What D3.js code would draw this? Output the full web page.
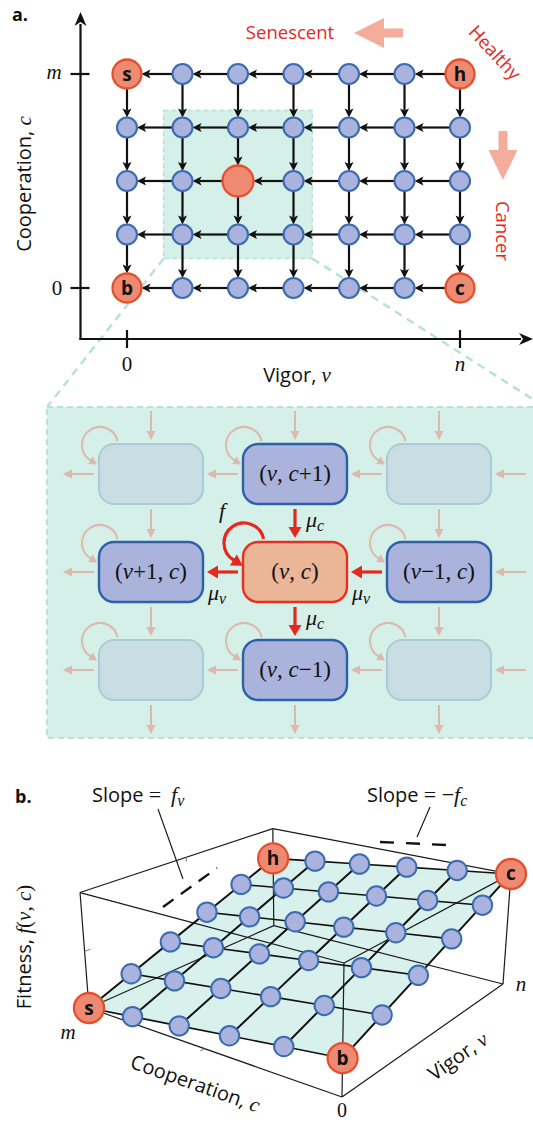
<!DOCTYPE html>
<html>
<head>
<script src="https://d3js.org/d3.v7.min.js" charset="utf-8"></script>
<style>
  body { margin: 0; background: #fff; }
  text { font-family: "Open Sans", "DejaVu Sans", sans-serif; fill: #111; }
  .math { font-family: "Liberation Serif", "DejaVu Serif", serif; }
  .it { font-style: italic; }
</style>
</head>
<body>
<script>
// ---- panel a : lattice of states ----
var vigor = [0, 1, 2, 3, 4, 5, 6];          // v = 0 ... n
var cooperation = [0, 1, 2, 3, 4];          // c = 0 ... m
var extremes = [
  {v: 0, c: 4, name: "s"}, {v: 6, c: 4, name: "h"},
  {v: 0, c: 0, name: "b"}, {v: 6, c: 0, name: "c"}
];
var focus = {v: 2, c: 2};

// ---- zoomed neighbourhood of the focus state ----
var cells = [
  {dv: 1, dc: 1}, {dv: 0, dc: 1, label: ["(", "v", ", ", "c", "+1)"]}, {dv: -1, dc: 1},
  {dv: 1, dc: 0, label: ["(", "v", "+1, ", "c", ")"]}, {dv: 0, dc: 0, label: ["(", "v", ", ", "c", ")"]},
  {dv: -1, dc: 0, label: ["(", "v", "\u22121, ", "c", ")"]},
  {dv: 1, dc: -1}, {dv: 0, dc: -1, label: ["(", "v", ", ", "c", "\u22121)"]}, {dv: -1, dc: -1}
];
var rates = [
  {from: [0, 1], to: [0, 0], sym: "\u03bc", sub: "c"},
  {from: [0, 0], to: [0, -1], sym: "\u03bc", sub: "c"},
  {from: [-1, 0], to: [0, 0], sym: "\u03bc", sub: "v"},
  {from: [0, 0], to: [1, 0], sym: "\u03bc", sub: "v"}
];

// ---- panel b : fitness landscape, fitness[c][v] ----
var vigorB = [0, 1, 2, 3, 4, 5];
var coopB = [0, 1, 2, 3, 4, 5];
var fitness = [
  [0.30, 0.44, 0.58, 0.72, 0.86, 1.00],
  [0.24, 0.38, 0.52, 0.66, 0.80, 0.94],
  [0.18, 0.32, 0.46, 0.60, 0.74, 0.88],
  [0.12, 0.26, 0.40, 0.54, 0.68, 0.82],
  [0.06, 0.20, 0.34, 0.48, 0.62, 0.76],
  [0.00, 0.14, 0.28, 0.42, 0.56, 0.70]
];
var extremesB = [
  {v: 0, c: 5, name: "s"}, {v: 5, c: 5, name: "h"},
  {v: 0, c: 0, name: "b"}, {v: 5, c: 0, name: "c"}
];

var BLUE = "#a9b3de", BLUE_EDGE = "#3b6bb0", ORANGE = "#ef8a72", ORANGE_EDGE = "#e4502d",
    RED = "#e5281f", SALMON = "#f4ad9a", TEAL = "#d5efe9", TEAL_EDGE = "#b8e1d7",
    FADE = "#dcb9ac";

var svg = d3.select("body").append("svg").attr("width", 533).attr("height", 1123);

function arrow(g, x1, y1, x2, y2, s) {
  var dx = x2 - x1, dy = y2 - y1, L = Math.hypot(dx, dy), ux = dx / L, uy = dy / L;
  var bx = x2 - ux * s.len, by = y2 - uy * s.len, nx = -uy, ny = ux, hw = s.head / 2, k = s.notch || 0;
  g.append("line").attr("x1", x1).attr("y1", y1).attr("x2", bx + ux * 2).attr("y2", by + uy * 2)
    .attr("stroke", s.color).attr("stroke-width", s.width);
  g.append("path").attr("fill", s.color)
    .attr("d", "M" + x2 + "," + y2 + "L" + (bx + nx * hw) + "," + (by + ny * hw) +
      "L" + (bx + ux * k) + "," + (by + uy * k) + "L" + (bx - nx * hw) + "," + (by - ny * hw) + "Z");
}

function mathText(t, parts, italicIdx) {
  parts.forEach(function (p, i) {
    t.append("tspan").attr("class", italicIdx.indexOf(i) >= 0 ? "it" : null).text(p);
  });
}

// =================== panel a ===================
var ga = svg.append("g");
var x = d3.scaleLinear().domain([0, 6]).range([127, 460]);
var y = d3.scaleLinear().domain([0, 4]).range([288, 74]);
var axX = 80.5, axY = 339;

ga.append("text").attr("x", 12).attr("y", 21).style("font-weight", "bold").style("font-size", "18px").text("a.");

// highlighted neighbourhood
var hx0 = x(focus.v - 1.34), hx1 = x(focus.v + 1.34), hy0 = y(focus.c + 1.32), hy1 = y(focus.c - 1.45);
ga.append("rect").attr("x", hx0).attr("y", hy0).attr("width", hx1 - hx0).attr("height", hy1 - hy0)
  .attr("fill", TEAL).attr("stroke", TEAL_EDGE).attr("stroke-width", 1.5).attr("stroke-dasharray", "5,3");

// zoom box geometry
var box = {x0: 47, y0: 407, x1: 545, y1: 738};
ga.append("line").attr("x1", hx0).attr("y1", hy1).attr("x2", box.x0).attr("y2", box.y0)
  .attr("stroke", TEAL_EDGE).attr("stroke-width", 2.5).attr("stroke-dasharray", "8,6");
ga.append("line").attr("x1", hx1).attr("y1", hy1).attr("x2", box.x1).attr("y2", box.y0)
  .attr("stroke", TEAL_EDGE).attr("stroke-width", 2.5).attr("stroke-dasharray", "8,6");

// axes
var axStyle = {color: "#111", width: 2.2, len: 14, head: 12, notch: 4};
arrow(ga, axX, axY + 1, axX, 12, axStyle);
arrow(ga, axX - 1, axY, 533, axY, axStyle);
[0, 4].forEach(function (c) {
  ga.append("line").attr("x1", axX - 10).attr("x2", axX + 9).attr("y1", y(c)).attr("y2", y(c))
    .attr("stroke", "#111").attr("stroke-width", 2.2);
});
[0, 6].forEach(function (v) {
  ga.append("line").attr("x1", x(v)).attr("x2", x(v)).attr("y1", axY - 9).attr("y2", axY + 9)
    .attr("stroke", "#111").attr("stroke-width", 2.2);
});
ga.append("text").attr("class", "math it").attr("x", 54).attr("y", y(4) + 5).attr("text-anchor", "middle").style("font-size", "21px").text("m");
ga.append("text").attr("class", "math").attr("x", 57).attr("y", y(0) + 7).attr("text-anchor", "middle").style("font-size", "21px").text("0");
ga.append("text").attr("class", "math").attr("x", x(0)).attr("y", 371).attr("text-anchor", "middle").style("font-size", "21px").text("0");
ga.append("text").attr("class", "math it").attr("x", x(6)).attr("y", 371).attr("text-anchor", "middle").style("font-size", "21px").text("n");

var vl = ga.append("text").attr("x", 297).attr("y", 382).attr("text-anchor", "middle").style("font-size", "20px");
vl.append("tspan").text("Vigor, ");
vl.append("tspan").attr("class", "math it").style("font-size", "21px").text("v");
var cl = ga.append("text").attr("transform", "translate(31,184) rotate(-90)").attr("text-anchor", "middle").style("font-size", "20px");
cl.append("tspan").text("Cooperation, ");
cl.append("tspan").attr("class", "math it").style("font-size", "21px").text("c");

// direction hints
ga.append("text").attr("x", 290).attr("y", 39).attr("text-anchor", "middle").style("font-size", "18.5px").style("fill", RED).text("Senescent");
ga.append("text").attr("transform", "translate(490,57) rotate(47)").attr("text-anchor", "middle").style("font-size", "18.5px").style("fill", RED).text("Healthy");
ga.append("text").attr("transform", "translate(496,231) rotate(90)").attr("text-anchor", "middle").style("font-size", "18.5px").style("fill", RED).text("Cancer");
ga.append("path").attr("fill", SALMON)
  .attr("d", "M354,33 L384,18 L384,28.5 L403,28.5 L403,37.5 L384,37.5 L384,48 Z");
ga.append("path").attr("fill", SALMON)
  .attr("d", "M503,180 L488.5,150 L498.5,150 L498.5,131 L507.5,131 L507.5,150 L517.5,150 Z");

// lattice
var nodesA = [];
cooperation.forEach(function (c) {
  vigor.forEach(function (v) {
    var ex = extremes.filter(function (e) { return e.v === v && e.c === c; })[0];
    var isFocus = v === focus.v && c === focus.c;
    nodesA.push({v: v, c: c, name: ex ? ex.name : null, r: ex ? 14.5 : (isFocus ? 15.5 : 10),
      hot: !!ex || isFocus});
  });
});
function nodeA(v, c) { return nodesA.filter(function (n) { return n.v === v && n.c === c; })[0]; }

var gridStyle = {color: "#111", width: 2.2, len: 9, head: 9, notch: 2};
nodesA.forEach(function (n) {
  if (n.v > 0) {
    var m = nodeA(n.v - 1, n.c);
    arrow(ga, x(n.v) - n.r, y(n.c), x(m.v) + m.r, y(m.c), gridStyle);
  }
  if (n.c > 0) {
    var d = nodeA(n.v, n.c - 1);
    arrow(ga, x(n.v), y(n.c) + n.r, x(d.v), y(d.c) - d.r, gridStyle);
  }
});
var na = ga.selectAll("g.nodeA").data(nodesA).enter().append("g")
  .attr("transform", function (d) { return "translate(" + x(d.v) + "," + y(d.c) + ")"; });
na.append("circle").attr("r", function (d) { return d.r; })
  .attr("fill", function (d) { return d.hot ? ORANGE : BLUE; })
  .attr("stroke", function (d) { return d.hot ? ORANGE_EDGE : BLUE_EDGE; })
  .attr("stroke-width", function (d) { return d.hot ? 2.3 : 2.1; });
na.filter(function (d) { return d.name; }).append("text").attr("text-anchor", "middle").attr("y", 6.5)
  .style("font-weight", "bold").style("font-size", "19px").text(function (d) { return d.name; });

// =================== zoomed neighbourhood ===================
var gz = svg.append("g");
gz.append("rect").attr("x", box.x0).attr("y", box.y0).attr("width", box.x1 - box.x0).attr("height", box.y1 - box.y0)
  .attr("fill", TEAL).attr("stroke", TEAL_EDGE).attr("stroke-width", 2).attr("stroke-dasharray", "6,4");

var zx = d3.scaleLinear().domain([1, -1]).range([151, 439]);
var zy = d3.scaleLinear().domain([1, -1]).range([474, 670]);
var hw = 52, hh = 30;
var fadeStyle = {color: FADE, width: 2, len: 9, head: 9, notch: 0};
var redStyle = {color: RED, width: 3.2, len: 11, head: 13, notch: 0};

function isRate(a, b) {
  return rates.filter(function (r) { return r.from[0] === a[0] && r.from[1] === a[1] && r.to[0] === b[0] && r.to[1] === b[1]; })[0];
}
// downward flows
[1, 0, -1].forEach(function (dv) {
  [2, 1, 0, -1].forEach(function (dc) {
    var st = isRate([dv, dc], [dv, dc - 1]) ? redStyle : fadeStyle;
    arrow(gz, zx(dv), zy(dc) + hh + 5, zx(dv), zy(dc - 1) - hh - 4, st);
  });
});
// leftward flows
[1, 0, -1].forEach(function (dc) {
  [-2, -1, 0, 1].forEach(function (dv) {
    var st = isRate([dv, dc], [dv + 1, dc]) ? redStyle : fadeStyle;
    arrow(gz, zx(dv) - hw - 5, zy(dc), zx(dv + 1) + hw + 4, zy(dc), st);
  });
});

// self loops (growth at rate f)
function loop(g, cx, cy, r, st) {
  var a0 = -12 * Math.PI / 180, a1 = 122 * Math.PI / 180;
  var p0 = [cx + r * Math.cos(a0), cy + r * Math.sin(a0)], p1 = [cx + r * Math.cos(a1), cy + r * Math.sin(a1)];
  g.append("path").attr("fill", "none").attr("stroke", st.color).attr("stroke-width", st.width)
    .attr("d", "M" + p0[0] + "," + p0[1] + "A" + r + "," + r + " 0 1 0 " + p1[0] + "," + p1[1]);
  var tx = Math.sin(a1), ty = -Math.cos(a1);
  var tip = [p1[0] + tx * st.len, p1[1] + ty * st.len];
  arrow(g, p1[0] - tx, p1[1] - ty, tip[0], tip[1], st);
}
cells.forEach(function (d) {
  var isC = d.dv === 0 && d.dc === 0;
  loop(gz, zx(d.dv) - hw + 1, zy(d.dc) - hh + 1, isC ? 20 : 18,
    isC ? {color: RED, width: 3.2, len: 11, head: 13} : {color: FADE, width: 2, len: 8, head: 9});
});

gz.selectAll("rect.cell").data(cells).enter().append("rect").attr("class", "cell")
  .attr("x", function (d) { return zx(d.dv) - hw; }).attr("y", function (d) { return zy(d.dc) - hh; })
  .attr("width", 2 * hw).attr("height", 2 * hh).attr("rx", 15)
  .attr("fill", function (d) { return !d.label ? "#c9dee2" : (d.dv === 0 && d.dc === 0 ? "#ebb597" : "#aab3dc"); })
  .attr("stroke", function (d) { return !d.label ? "#a9cbd8" : (d.dv === 0 && d.dc === 0 ? "#e6301d" : "#2d60a7"); })
  .attr("stroke-width", function (d) { return d.label ? 2.4 : 2; });
cells.filter(function (d) { return d.label; }).forEach(function (d) {
  var t = gz.append("text").attr("class", "math").attr("x", zx(d.dv)).attr("y", zy(d.dc) + 7)
    .attr("text-anchor", "middle").style("font-size", "23px");
  mathText(t, d.label, [1, 3]);
});

// rate labels
function rateLabel(g, px, py, sym, sub) {
  var t = g.append("text").attr("class", "math it").attr("x", px).attr("y", py).style("font-size", "22px");
  t.append("tspan").text(sym);
  t.append("tspan").attr("dy", 4).style("font-size", "16px").text(sub);
}
rateLabel(gz, zx(0) + 11, zy(0.5) + 4, "\u03bc", "c");
rateLabel(gz, zx(0) + 11, zy(-0.5) + 4, "\u03bc", "c");
rateLabel(gz, zx(0.5) - 15, zy(0) + 28, "\u03bc", "v");
rateLabel(gz, zx(-0.5) - 15, zy(0) + 28, "\u03bc", "v");
gz.append("text").attr("class", "math it").attr("x", 222).attr("y", 518).attr("text-anchor", "middle").style("font-size", "22px").text("f");

// =================== panel b ===================
var gb = svg.append("g");
gb.append("text").attr("x", 15).attr("y", 803).style("font-weight", "bold").style("font-size", "18px").text("b.");

// perspective camera: images of the box origin and unit points (cooperation, vigor, fitness)
var cam = {o: [342, 1097], a: [89, 1008], b: [503, 984], z: [344, 963], k: [1.19, 1.257, 0.952]};
var ca = d3.scaleLinear().domain([0, 5]).range([0, 1]);
var vb = d3.scaleLinear().domain([0, 5]).range([0, 1]);
function proj(a, b, z) {
  var w = 1 + a * (cam.k[0] - 1) + b * (cam.k[1] - 1) + z * (cam.k[2] - 1);
  return [0, 1].map(function (i) {
    return (cam.o[i] + a * (cam.k[0] * cam.a[i] - cam.o[i]) + b * (cam.k[1] * cam.b[i] - cam.o[i]) +
      z * (cam.k[2] * cam.z[i] - cam.o[i])) / w;
  });
}
function P(c, v) { return proj(ca(c), vb(v), fitness[c][v]); }
var line = d3.line();

// plane
gb.append("path").attr("fill", "#d9f1ec").attr("stroke", "none")
  .attr("d", line([P(0, 0), P(0, 5), P(5, 5), P(5, 0)]) + "Z");

// box edges
var corners = [[0, 0, 0], [1, 0, 0], [1, 1, 0], [0, 1, 0]];
var edges = [];
corners.forEach(function (p, i) {
  var q = corners[(i + 1) % 4];
  edges.push([[p[0], p[1], 0], [q[0], q[1], 0]]);
  edges.push([[p[0], p[1], 1], [q[0], q[1], 1]]);
  edges.push([[p[0], p[1], 0], [p[0], p[1], 1]]);
});
gb.selectAll("path.edge").data(edges).enter().append("path").attr("class", "edge")
  .attr("d", function (e) { return line(e.map(function (p) { return proj(p[0], p[1], p[2]); })); })
  .attr("stroke", "#1a1a1a").attr("stroke-width", 1.2).attr("fill", "none");
// small mid ticks
[[[0.5, 0, 0], [0.5, -0.02, 0]], [[1, 0, 0.5], [1, 0.025, 0.5]], [[1, 0.5, 1], [1, 0.5, 0.96]]].forEach(function (t) {
  gb.append("path").attr("d", line(t.map(function (p) { return proj(p[0], p[1], p[2]); })))
    .attr("stroke", "#777").attr("stroke-width", 1);
});

// grid lines over the plane
coopB.forEach(function (c) {
  gb.append("path").attr("d", line(vigorB.map(function (v) { return P(c, v); })))
    .attr("stroke", "#111").attr("stroke-width", 2).attr("fill", "none");
});
vigorB.forEach(function (v) {
  gb.append("path").attr("d", line(coopB.map(function (c) { return P(c, v); })))
    .attr("stroke", "#111").attr("stroke-width", 1.6).attr("fill", "none");
});

var nodesB = [];
coopB.forEach(function (c) {
  vigorB.forEach(function (v) {
    var ex = extremesB.filter(function (e) { return e.v === v && e.c === c; })[0];
    nodesB.push({c: c, v: v, name: ex ? ex.name : null, p: P(c, v)});
  });
});
var nb = gb.selectAll("g.nodeB").data(nodesB).enter().append("g")
  .attr("transform", function (d) { return "translate(" + d.p[0] + "," + d.p[1] + ")"; });
nb.append("circle").attr("r", function (d) { return d.name ? 15 : 9.7; })
  .attr("fill", function (d) { return d.name ? ORANGE : BLUE; })
  .attr("stroke", function (d) { return d.name ? ORANGE_EDGE : BLUE_EDGE; })
  .attr("stroke-width", function (d) { return d.name ? 2.3 : 2; });
nb.filter(function (d) { return d.name; }).append("text").attr("text-anchor", "middle").attr("y", 6.5)
  .style("font-weight", "bold").style("font-size", "19px").text(function (d) { return d.name; });

// axis labels of the box
var pL = proj(1, 0, 0), pO = proj(0, 0, 0), pR = proj(0, 1, 0);
var angC = Math.atan2(pO[1] - pL[1], pO[0] - pL[0]) * 180 / Math.PI;
var angV = Math.atan2(pR[1] - pO[1], pR[0] - pO[0]) * 180 / Math.PI;
var cb = gb.append("text").attr("transform", "translate(193,1090) rotate(" + angC + ")").attr("text-anchor", "middle").style("font-size", "20px");
cb.append("tspan").text("Cooperation, ");
cb.append("tspan").attr("class", "math it").style("font-size", "21px").text("c");
var vbl = gb.append("text").attr("transform", "translate(462,1062) rotate(" + angV + ")").attr("text-anchor", "middle").style("font-size", "20px");
vbl.append("tspan").text("Vigor, ");
vbl.append("tspan").attr("class", "math it").style("font-size", "21px").text("v");
var fl = gb.append("text").attr("transform", "translate(31,947) rotate(-90)").attr("text-anchor", "middle").style("font-size", "20px");
fl.append("tspan").text("Fitness, ");
var fm = fl.append("tspan").attr("class", "math").style("font-size", "21px");
fm.append("tspan").attr("class", "it").text("f");
fm.append("tspan").text("(");
fm.append("tspan").attr("class", "it").text("v");
fm.append("tspan").text(", ");
fm.append("tspan").attr("class", "it").text("c");
fm.append("tspan").text(")");
gb.append("text").attr("class", "math it").attr("x", 68).attr("y", 1039).attr("text-anchor", "middle").style("font-size", "21px").text("m");
gb.append("text").attr("class", "math it").attr("x", 521).attr("y", 991).attr("text-anchor", "middle").style("font-size", "21px").text("n");
gb.append("text").attr("class", "math").attr("x", pO[0]).attr("y", 1117).attr("text-anchor", "middle").style("font-size", "20px").text("0");

// slope annotations
function slopeLabel(px, py, neg, sub) {
  var t = gb.append("text").attr("x", px).attr("y", py).style("font-size", "20px");
  t.append("tspan").text("Slope ");
  var m = t.append("tspan").attr("class", "math").style("font-size", "22px");
  m.append("tspan").text("= " + (neg ? "\u2212" : "\u2009"));
  m.append("tspan").attr("class", "it").text("f");
  m.append("tspan").attr("class", "it").attr("dy", 4).style("font-size", "16px").text(sub);
}
slopeLabel(92, 802, false, "v");
slopeLabel(367, 802, true, "c");
gb.append("line").attr("x1", 158).attr("y1", 809).attr("x2", 183).attr("y2", 879).attr("stroke", "#111").attr("stroke-width", 1.1);
gb.append("line").attr("x1", 430).attr("y1", 807).attr("x2", 417).attr("y2", 837).attr("stroke", "#111").attr("stroke-width", 1.1);
gb.append("line").attr("x1", 163).attr("y1", 907).attr("x2", 217).attr("y2", 868).attr("stroke", "#111").attr("stroke-width", 2.4).attr("stroke-dasharray", "13,9");
gb.append("line").attr("x1", 380).attr("y1", 842).attr("x2", 447).attr("y2", 845).attr("stroke", "#111").attr("stroke-width", 2.4).attr("stroke-dasharray", "14,12");
</script>
</body>
</html>
